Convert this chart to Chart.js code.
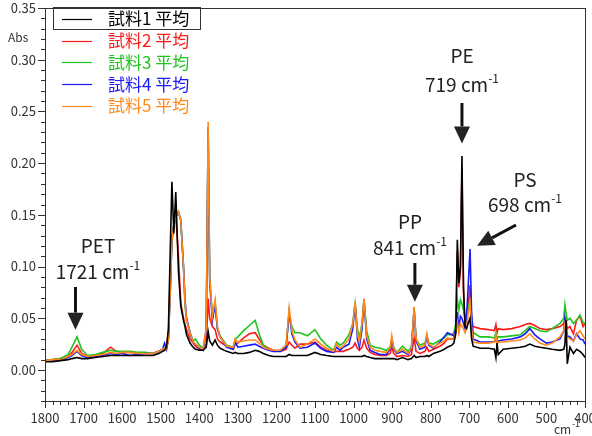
<!DOCTYPE html>
<html>
<head>
<meta charset="utf-8">
<script src="https://cdn.jsdelivr.net/npm/chart.js@4/dist/chart.umd.min.js"></script>
<style>
  html, body { margin: 0; padding: 0; background: #fff; }
  #wrap { width: 592px; height: 436px; }
</style>
</head>
<body>
<div id="wrap"><canvas id="irChart"></canvas></div>
<script>
// wavenumbers (cm-1)
const wavenumbers = [
  1800, 1780, 1760, 1740, 1730, 1717, 1705, 1690, 1670, 1650,
  1630, 1615, 1600, 1580, 1560, 1540, 1520, 1505, 1495, 1490,
  1485, 1480, 1475, 1471, 1466, 1461, 1454, 1448, 1441, 1437,
  1433, 1424, 1416, 1410, 1400, 1390, 1382, 1377, 1373, 1366,
  1359, 1353, 1346, 1329, 1312, 1307, 1300, 1285, 1270, 1255,
  1245, 1234, 1220, 1208, 1190, 1175, 1167, 1160, 1152, 1139,
  1120, 1100, 1085, 1070, 1052, 1044, 1035, 1027, 1012, 1002,
  996, 990, 985, 978, 973, 966, 957, 945, 931, 915,
  905, 901, 896, 888, 873, 859, 850, 843, 838, 828,
  815, 810, 805, 793, 776, 765, 757, 745, 740, 735,
  731, 727, 723, 719, 715, 711, 707, 703, 698, 694,
  690, 672, 650, 635, 631, 628, 625, 612, 590, 568,
  555, 543, 530, 517, 500, 485, 465, 455, 452, 449,
  446, 439, 430, 422, 413, 405, 400
];

const sample1 = [
  0.008, 0.008, 0.009, 0.010, 0.011, 0.012, 0.011, 0.011, 0.012, 0.013,
  0.014, 0.014, 0.014, 0.014, 0.014, 0.014, 0.014, 0.016, 0.018, 0.019,
  0.022, 0.040, 0.120, 0.182, 0.132, 0.172, 0.095, 0.062, 0.048, 0.042,
  0.034, 0.026, 0.022, 0.020, 0.019, 0.019, 0.022, 0.037, 0.028, 0.024,
  0.029, 0.024, 0.021, 0.018, 0.016, 0.017, 0.016, 0.016, 0.017, 0.019,
  0.018, 0.016, 0.014, 0.013, 0.013, 0.013, 0.015, 0.014, 0.014, 0.014,
  0.014, 0.017, 0.015, 0.014, 0.013, 0.013, 0.013, 0.013, 0.013, 0.013,
  0.013, 0.013, 0.013, 0.013, 0.014, 0.013, 0.012, 0.011, 0.011, 0.011,
  0.011, 0.011, 0.011, 0.010, 0.012, 0.010, 0.011, 0.014, 0.012, 0.013,
  0.013, 0.014, 0.013, 0.016, 0.018, 0.020, 0.022, 0.024, 0.026, 0.035,
  0.126, 0.084, 0.100, 0.207, 0.080, 0.042, 0.040, 0.045, 0.050, 0.030,
  0.023, 0.021, 0.021, 0.020, 0.012, 0.026, 0.015, 0.020, 0.021, 0.022,
  0.023, 0.025, 0.023, 0.022, 0.021, 0.020, 0.019, 0.020, 0.025, 0.048,
  0.006, 0.022, 0.016, 0.020, 0.018, 0.015, 0.012
];

const sample2 = [
  0.009, 0.010, 0.011, 0.013, 0.017, 0.024, 0.016, 0.013, 0.014, 0.016,
  0.022, 0.018, 0.017, 0.017, 0.016, 0.016, 0.016, 0.018, 0.020, 0.020,
  0.022, 0.035, 0.090, 0.128, 0.140, 0.150, 0.110, 0.065, 0.050, 0.044,
  0.039, 0.030, 0.026, 0.023, 0.020, 0.019, 0.025, 0.069, 0.050, 0.042,
  0.039, 0.030, 0.027, 0.023, 0.020, 0.025, 0.026, 0.031, 0.035, 0.036,
  0.030, 0.024, 0.021, 0.019, 0.018, 0.020, 0.027, 0.024, 0.021, 0.025,
  0.025, 0.027, 0.022, 0.019, 0.017, 0.018, 0.018, 0.018, 0.020, 0.022,
  0.026, 0.021, 0.019, 0.022, 0.029, 0.021, 0.017, 0.015, 0.014, 0.014,
  0.016, 0.022, 0.016, 0.013, 0.014, 0.013, 0.015, 0.031, 0.018, 0.016,
  0.018, 0.022, 0.018, 0.020, 0.023, 0.026, 0.030, 0.030, 0.031, 0.038,
  0.115, 0.080, 0.095, 0.195, 0.075, 0.045, 0.050, 0.060, 0.082, 0.050,
  0.042, 0.040, 0.039, 0.038, 0.044, 0.036, 0.040, 0.039, 0.040, 0.042,
  0.044, 0.045, 0.043, 0.040, 0.039, 0.040, 0.042, 0.045, 0.050, 0.048,
  0.040, 0.042, 0.035, 0.048, 0.052, 0.042, 0.045
];

const sample3 = [
  0.009, 0.010, 0.011, 0.015, 0.022, 0.032, 0.020, 0.014, 0.015, 0.017,
  0.019, 0.018, 0.018, 0.018, 0.017, 0.017, 0.016, 0.018, 0.020, 0.021,
  0.020, 0.030, 0.080, 0.125, 0.140, 0.148, 0.153, 0.145, 0.100, 0.062,
  0.048, 0.036, 0.028, 0.030, 0.024, 0.021, 0.040, 0.228, 0.090, 0.050,
  0.065, 0.040, 0.033, 0.024, 0.022, 0.030, 0.032, 0.038, 0.043, 0.048,
  0.035, 0.024, 0.020, 0.018, 0.019, 0.022, 0.055, 0.042, 0.036, 0.036,
  0.033, 0.039, 0.030, 0.024, 0.019, 0.027, 0.024, 0.026, 0.034, 0.045,
  0.064, 0.040, 0.031, 0.045, 0.068, 0.038, 0.024, 0.022, 0.021, 0.019,
  0.022, 0.030, 0.022, 0.017, 0.023, 0.018, 0.022, 0.058, 0.030, 0.024,
  0.026, 0.033, 0.026, 0.025, 0.029, 0.031, 0.034, 0.034, 0.036, 0.045,
  0.068, 0.058, 0.068, 0.064, 0.058, 0.050, 0.055, 0.060, 0.067, 0.045,
  0.036, 0.032, 0.032, 0.031, 0.036, 0.030, 0.032, 0.032, 0.033, 0.034,
  0.038, 0.042, 0.040, 0.038, 0.037, 0.040, 0.045, 0.050, 0.063, 0.055,
  0.048, 0.050, 0.045, 0.048, 0.053, 0.046, 0.045
];

const sample4 = [
  0.009, 0.009, 0.010, 0.012, 0.014, 0.018, 0.014, 0.012, 0.013, 0.014,
  0.016, 0.015, 0.016, 0.014, 0.015, 0.016, 0.016, 0.018, 0.020, 0.026,
  0.020, 0.030, 0.080, 0.125, 0.140, 0.148, 0.153, 0.145, 0.100, 0.068,
  0.050, 0.036, 0.027, 0.025, 0.021, 0.019, 0.038, 0.235, 0.085, 0.048,
  0.063, 0.040, 0.032, 0.022, 0.020, 0.027, 0.022, 0.023, 0.024, 0.025,
  0.023, 0.021, 0.019, 0.018, 0.018, 0.022, 0.056, 0.035, 0.027, 0.021,
  0.022, 0.026, 0.021, 0.018, 0.017, 0.022, 0.019, 0.022, 0.025, 0.040,
  0.065, 0.030, 0.022, 0.040, 0.068, 0.030, 0.019, 0.017, 0.015, 0.015,
  0.020, 0.030, 0.020, 0.016, 0.018, 0.015, 0.020, 0.060, 0.028, 0.020,
  0.022, 0.033, 0.024, 0.021, 0.027, 0.032, 0.036, 0.034, 0.033, 0.040,
  0.056, 0.040, 0.052, 0.050, 0.045, 0.040, 0.052, 0.080, 0.117, 0.055,
  0.030, 0.027, 0.027, 0.027, 0.030, 0.026, 0.028, 0.029, 0.030, 0.032,
  0.035, 0.040, 0.034, 0.030, 0.026, 0.027, 0.030, 0.038, 0.050, 0.042,
  0.033, 0.032, 0.028, 0.035, 0.030, 0.029, 0.025
];

const sample5 = [
  0.009, 0.010, 0.010, 0.013, 0.015, 0.019, 0.015, 0.013, 0.014, 0.015,
  0.017, 0.016, 0.017, 0.017, 0.016, 0.016, 0.016, 0.018, 0.020, 0.021,
  0.020, 0.030, 0.080, 0.125, 0.140, 0.148, 0.153, 0.145, 0.100, 0.066,
  0.048, 0.036, 0.027, 0.025, 0.022, 0.020, 0.040, 0.240, 0.090, 0.052,
  0.068, 0.042, 0.032, 0.023, 0.022, 0.030, 0.027, 0.028, 0.029, 0.029,
  0.026, 0.022, 0.020, 0.019, 0.019, 0.024, 0.060, 0.038, 0.029, 0.022,
  0.025, 0.030, 0.025, 0.021, 0.018, 0.025, 0.021, 0.023, 0.030, 0.045,
  0.066, 0.035, 0.027, 0.045, 0.069, 0.033, 0.022, 0.019, 0.018, 0.017,
  0.021, 0.033, 0.021, 0.017, 0.020, 0.016, 0.021, 0.061, 0.030, 0.022,
  0.024, 0.035, 0.025, 0.022, 0.026, 0.028, 0.031, 0.030, 0.030, 0.036,
  0.046, 0.036, 0.045, 0.042, 0.040, 0.036, 0.040, 0.055, 0.065, 0.040,
  0.027, 0.026, 0.026, 0.027, 0.034, 0.024, 0.027, 0.027, 0.028, 0.029,
  0.031, 0.035, 0.030, 0.026, 0.024, 0.026, 0.032, 0.038, 0.045, 0.040,
  0.032, 0.030, 0.028, 0.034, 0.038, 0.033, 0.030
];

const seriesNames = ['試料1 平均', '試料2 平均', '試料3 平均', '試料4 平均', '試料5 平均'];
const seriesColors = ['#000000', '#ff1a1a', '#1fc41f', '#1a1aff', '#ff8a1a'];
const seriesData = [sample1, sample2, sample3, sample4, sample5];
const drawOrder = [0, 4, 3, 2, 1];

// peak annotations
const peakLabels = ['PET', 'PP', 'PE', 'PS'];
const peakWaves = ['1721', '841', '719', '698'];

const frameAndTicks = {
  id: 'frameAndTicks',
  afterDraw(chart) {
    const ctx = chart.ctx;
    const a = chart.chartArea;
    const xs = chart.scales.x, ys = chart.scales.y;
    ctx.save();
    ctx.strokeStyle = '#333';
    ctx.lineWidth = 1;
    ctx.strokeRect(a.left + 0.5, a.top + 0.5, a.right - a.left, a.bottom - a.top);
    ctx.beginPath();
    ys.ticks.forEach(t => {
      const y = Math.round(ys.getPixelForValue(t.value)) + 0.5;
      const major = Math.round(t.value * 100) % 5 === 0;
      ctx.moveTo(a.left, y);
      ctx.lineTo(a.left - (major ? 7 : 4), y);
    });
    xs.ticks.forEach(t => {
      const x = Math.round(xs.getPixelForValue(t.value)) + 0.5;
      const major = Math.round(t.value) % 100 === 0;
      ctx.moveTo(x, a.bottom);
      ctx.lineTo(x, a.bottom + (major ? 7 : 4));
    });
    ctx.stroke();

    ctx.fillStyle = '#333';
    ctx.font = '12px "Noto Sans CJK JP", "Noto Sans", sans-serif';
    ctx.textAlign = 'left';
    ctx.textBaseline = 'middle';
    ctx.fillText('Abs', 8, 37);
    ctx.fillText('cm', 554, 429);
    ctx.font = '9px "Noto Sans CJK JP", "Noto Sans", sans-serif';
    ctx.fillText('-1', 572, 424);
    ctx.restore();
  }
};

const legendBox = {
  id: 'legendBox',
  afterDraw(chart) {
    const ctx = chart.ctx;
    ctx.save();
    ctx.font = '17px "Noto Sans CJK JP", sans-serif';
    ctx.textBaseline = 'middle';
    ctx.textAlign = 'left';
    seriesNames.forEach((name, i) => {
      const y = 19 + i * 21.7;
      ctx.strokeStyle = seriesColors[i];
      ctx.lineWidth = 1.2;
      ctx.beginPath();
      ctx.moveTo(62, Math.round(y) + 0.5);
      ctx.lineTo(92, Math.round(y) + 0.5);
      ctx.stroke();
      ctx.fillStyle = seriesColors[i];
      ctx.fillText(name, 108, y);
    });
    ctx.strokeStyle = '#333';
    ctx.lineWidth = 1;
    ctx.strokeRect(53.5, 7.5, 147, 22);
    ctx.restore();
  }
};

function arrow(ctx, x1, y1, x2, y2) {
  const ang = Math.atan2(y2 - y1, x2 - x1);
  const hl = 17, hw = 8;
  const bx = x2 - hl * Math.cos(ang), by = y2 - hl * Math.sin(ang);
  ctx.beginPath();
  ctx.moveTo(x1, y1);
  ctx.lineTo(bx, by);
  ctx.stroke();
  ctx.beginPath();
  ctx.moveTo(x2, y2);
  ctx.lineTo(bx + hw * Math.sin(ang), by - hw * Math.cos(ang));
  ctx.lineTo(bx - hw * Math.sin(ang), by + hw * Math.cos(ang));
  ctx.closePath();
  ctx.fill();
}

function label(ctx, cx, y1, y2, name, wave) {
  ctx.font = '19px "Noto Sans CJK JP", "Noto Sans", sans-serif';
  ctx.textAlign = 'center';
  ctx.fillText(name, cx, y1);
  const main = wave + ' cm';
  const wMain = ctx.measureText(main).width;
  ctx.font = '12px "Noto Sans CJK JP", "Noto Sans", sans-serif';
  const wSup = ctx.measureText('-1').width;
  const left = cx - (wMain + wSup) / 2;
  ctx.textAlign = 'left';
  ctx.fillText('-1', left + wMain, y2 - 7);
  ctx.font = '19px "Noto Sans CJK JP", "Noto Sans", sans-serif';
  ctx.fillText(main, left, y2);
}

const peakNotes = {
  id: 'peakNotes',
  afterDraw(chart) {
    const ctx = chart.ctx;
    const xs = chart.scales.x, ys = chart.scales.y;
    ctx.save();
    ctx.fillStyle = '#222';
    ctx.strokeStyle = '#111';
    ctx.lineWidth = 3;
    ctx.textBaseline = 'middle';
    // PET
    let x = xs.getPixelForValue(1721);
    arrow(ctx, x, 287, x, ys.getPixelForValue(0.039));
    label(ctx, 98, 246, 272, peakLabels[0], peakWaves[0]);
    // PP
    x = xs.getPixelForValue(841);
    arrow(ctx, x, 263, x, ys.getPixelForValue(0.066));
    label(ctx, 410, 222, 248, peakLabels[1], peakWaves[1]);
    // PE
    x = xs.getPixelForValue(719);
    arrow(ctx, x, 103, x, ys.getPixelForValue(0.219));
    label(ctx, 462, 56, 85, peakLabels[2], peakWaves[2]);
    // PS
    x = xs.getPixelForValue(698);
    arrow(ctx, 516, 225, x + 7, ys.getPixelForValue(0.12));
    label(ctx, 525, 180, 205, peakLabels[3], peakWaves[3]);
    ctx.restore();
  }
};

const ctxIR = document.getElementById('irChart').getContext('2d');
const irChart = new Chart(ctxIR, {
  type: 'line',
  data: {
    datasets: seriesNames.map((name, i) => ({
      label: name,
      data: wavenumbers.map((w, j) => ({ x: w, y: seriesData[i][j] })),
      borderColor: seriesColors[i],
      borderWidth: 1.6,
      pointRadius: 0,
      tension: 0,
      fill: false,
      order: drawOrder[i]
    }))
  },
  options: {
    responsive: true,
    maintainAspectRatio: false,
    animation: false,
    layout: { padding: { top: 8, right: 7, left: 0, bottom: 0 } },
    plugins: { legend: { display: false }, tooltip: { enabled: false } },
    scales: {
      x: {
        type: 'linear',
        reverse: true,
        min: 400,
        max: 1800,
        grid: { drawOnChartArea: false, tickLength: 7, tickColor: 'transparent' },
        border: { display: false },
        ticks: {
          stepSize: 20,
          autoSkip: false,
          maxRotation: 0,
          padding: 2,
          color: '#333',
          font: { family: '"Noto Sans CJK JP", "Noto Sans", sans-serif', size: 13 },
          callback: v => (Math.round(v) % 100 === 0 ? String(v) : '')
        },
        afterFit: s => { s.height = 35; s.paddingLeft = 0; s.paddingRight = 0; }
      },
      y: {
        min: -0.03,
        max: 0.35,
        grid: { drawOnChartArea: false, tickLength: 7, tickColor: 'transparent' },
        border: { display: false },
        ticks: {
          stepSize: 0.01,
          autoSkip: false,
          padding: 2,
          color: '#333',
          font: { family: '"Noto Sans CJK JP", "Noto Sans", sans-serif', size: 13 },
          callback: v => (Math.round(v * 100) % 5 === 0 ? v.toFixed(2) : '')
        },
        afterFit: s => { s.width = 45; s.paddingTop = 0; s.paddingBottom = 0; }
      }
    }
  },
  plugins: [frameAndTicks, legendBox, peakNotes]
});
</script>
</body>
</html>
